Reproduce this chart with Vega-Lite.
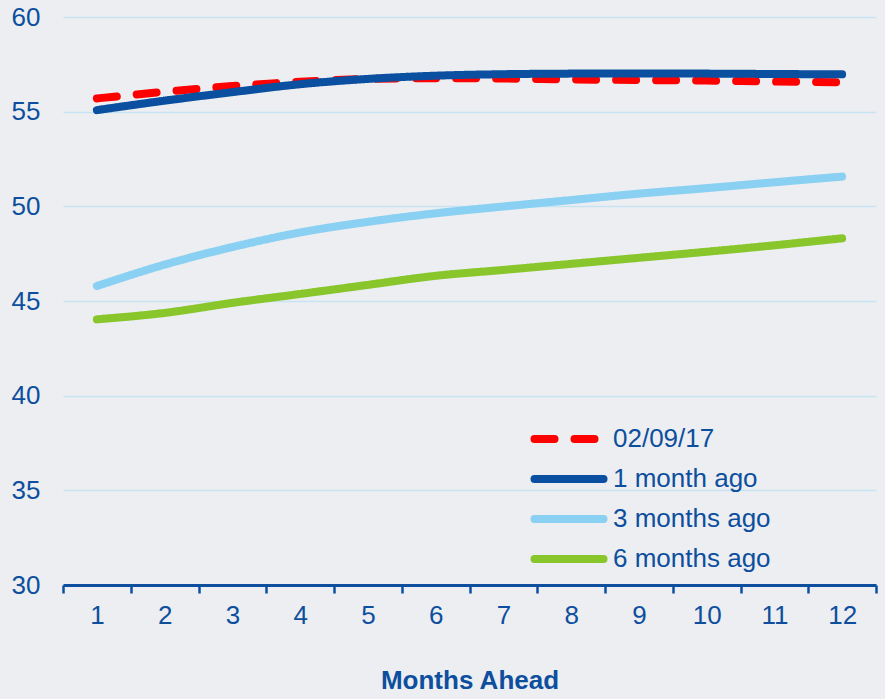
{
  "$schema": "https://vega.github.io/schema/vega-lite/v6.json",
  "width": 813,
  "height": 568,
  "autosize": {"type": "none"},
  "padding": {"left": 63, "top": 17, "right": 9, "bottom": 114},
  "background": "#eceef1",
  "config": {
    "view": {"stroke": null},
    "font": "Liberation Sans",
    "legend": {
      "orient": "none",
      "legendX": 467,
      "legendY": 409,
      "symbolType": "M-6.9,0H6.9",
      "symbolSize": 100,
      "symbolOffset": 26,
      "symbolStrokeWidth": 8,
      "labelFontSize": 26,
      "labelColor": "#0d4f9e",
      "labelFont": "Liberation Sans",
      "labelOffset": 31,
      "rowPadding": 8,
      "direction": "vertical"
    }
  },
  "data": {
    "values": [
      {"series": "02/09/17", "month": 1, "value": 55.70},
      {"series": "02/09/17", "month": 2, "value": 56.05},
      {"series": "02/09/17", "month": 3, "value": 56.35},
      {"series": "02/09/17", "month": 4, "value": 56.58},
      {"series": "02/09/17", "month": 5, "value": 56.73},
      {"series": "02/09/17", "month": 6, "value": 56.77},
      {"series": "02/09/17", "month": 7, "value": 56.75},
      {"series": "02/09/17", "month": 8, "value": 56.70},
      {"series": "02/09/17", "month": 9, "value": 56.67},
      {"series": "02/09/17", "month": 10, "value": 56.64},
      {"series": "02/09/17", "month": 11, "value": 56.59},
      {"series": "02/09/17", "month": 12, "value": 56.55},
      {"series": "1 month ago", "month": 1, "value": 55.08},
      {"series": "1 month ago", "month": 2, "value": 55.58},
      {"series": "1 month ago", "month": 3, "value": 56.03},
      {"series": "1 month ago", "month": 4, "value": 56.45},
      {"series": "1 month ago", "month": 5, "value": 56.73},
      {"series": "1 month ago", "month": 6, "value": 56.90},
      {"series": "1 month ago", "month": 7, "value": 56.98},
      {"series": "1 month ago", "month": 8, "value": 57.01},
      {"series": "1 month ago", "month": 9, "value": 57.02},
      {"series": "1 month ago", "month": 10, "value": 57.01},
      {"series": "1 month ago", "month": 11, "value": 56.99},
      {"series": "1 month ago", "month": 12, "value": 56.97},
      {"series": "3 months ago", "month": 1, "value": 45.79},
      {"series": "3 months ago", "month": 2, "value": 46.92},
      {"series": "3 months ago", "month": 3, "value": 47.85},
      {"series": "3 months ago", "month": 4, "value": 48.62},
      {"series": "3 months ago", "month": 5, "value": 49.18},
      {"series": "3 months ago", "month": 6, "value": 49.63},
      {"series": "3 months ago", "month": 7, "value": 49.99},
      {"series": "3 months ago", "month": 8, "value": 50.33},
      {"series": "3 months ago", "month": 9, "value": 50.67},
      {"series": "3 months ago", "month": 10, "value": 50.96},
      {"series": "3 months ago", "month": 11, "value": 51.27},
      {"series": "3 months ago", "month": 12, "value": 51.57},
      {"series": "6 months ago", "month": 1, "value": 44.03},
      {"series": "6 months ago", "month": 2, "value": 44.37},
      {"series": "6 months ago", "month": 3, "value": 44.90},
      {"series": "6 months ago", "month": 4, "value": 45.37},
      {"series": "6 months ago", "month": 5, "value": 45.85},
      {"series": "6 months ago", "month": 6, "value": 46.33},
      {"series": "6 months ago", "month": 7, "value": 46.64},
      {"series": "6 months ago", "month": 8, "value": 46.96},
      {"series": "6 months ago", "month": 9, "value": 47.28},
      {"series": "6 months ago", "month": 10, "value": 47.60},
      {"series": "6 months ago", "month": 11, "value": 47.94},
      {"series": "6 months ago", "month": 12, "value": 48.31}
    ]
  },
  "mark": {"type": "line", "strokeWidth": 8, "strokeCap": "round", "strokeJoin": "round", "interpolate": "monotone"},
  "encoding": {
    "x": {
      "field": "month",
      "type": "ordinal",
      "bandPosition": 0.5,
      "scale": {"type": "band", "paddingInner": 0, "paddingOuter": 0},
      "axis": {
        "title": "Months Ahead",
        "tickBand": "extent",
        "labelAngle": 0,
        "grid": false,
        "domainColor": "#0d4f9e",
        "domainWidth": 3,
        "tickColor": "#0d4f9e",
        "tickWidth": 2.5,
        "tickSize": 8,
        "labelFontSize": 26,
        "labelColor": "#0d4f9e",
        "labelPadding": 9,
        "titleFontSize": 26,
        "titleFontWeight": "bold",
        "titleColor": "#0d4f9e",
        "titlePadding": 39
      }
    },
    "y": {
      "field": "value",
      "type": "quantitative",
      "scale": {"domain": [30, 60], "nice": false, "zero": false},
      "axis": {
        "title": null,
        "values": [30, 35, 40, 45, 50, 55, 60],
        "domain": false,
        "ticks": false,
        "tickSize": 0,
        "labelPadding": 23,
        "gridColor": "#c6e4f4",
        "gridWidth": 1.5,
        "labelFontSize": 26,
        "labelColor": "#0d4f9e"
      }
    },
    "color": {
      "field": "series",
      "type": "nominal",
      "scale": {
        "domain": ["02/09/17", "1 month ago", "3 months ago", "6 months ago"],
        "range": ["#ff0000", "#0b4fa1", "#89d0f2", "#88c62c"]
      },
      "legend": {"title": null, "encode": {"symbols": {"update": {"strokeCap": {"value": "round"}}}}}
    },
    "strokeDash": {
      "field": "series",
      "type": "nominal",
      "scale": {
        "domain": ["02/09/17", "1 month ago", "3 months ago", "6 months ago"],
        "range": [[20, 20], [1, 0], [1, 0], [1, 0]]
      },
      "legend": {"title": null, "encode": {"symbols": {"update": {"strokeCap": {"value": "round"}}}}}
    }
  }
}
